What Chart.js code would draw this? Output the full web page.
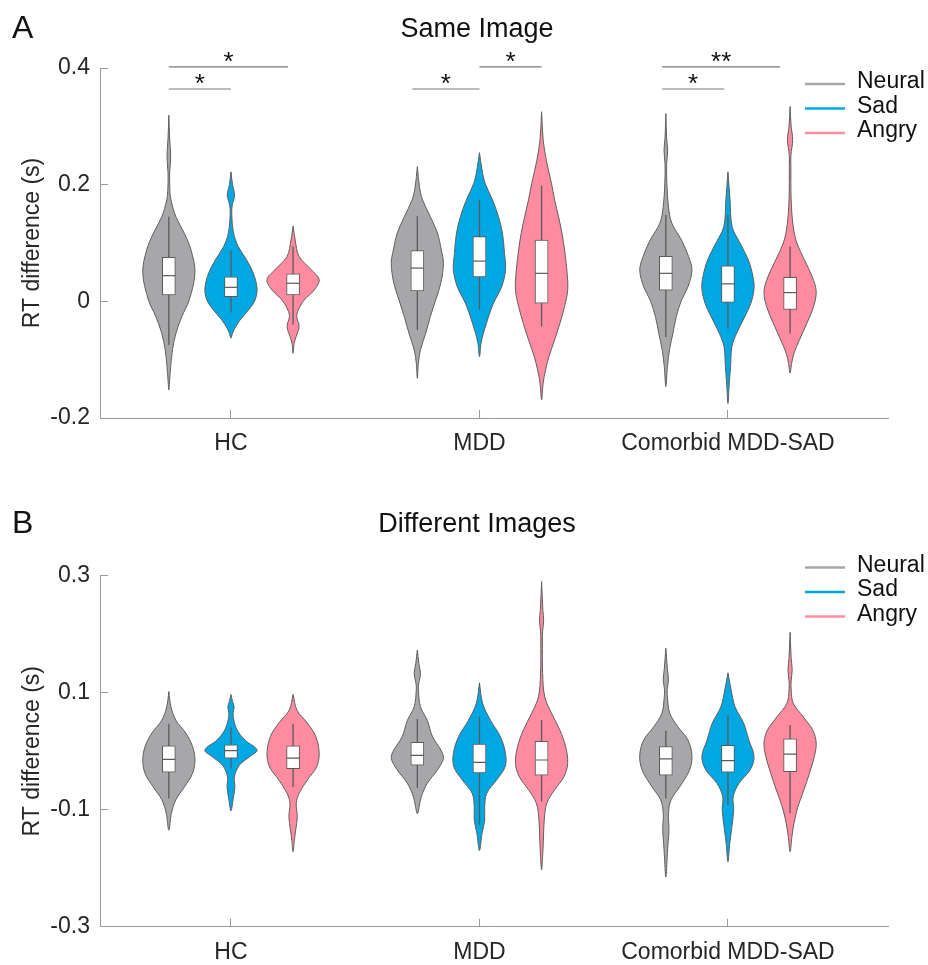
<!DOCTYPE html>
<html>
<head>
<meta charset="utf-8">
<title>RT difference violins</title>
<script src="https://cdn.jsdelivr.net/npm/chart.js@4.4.1/dist/chart.umd.min.js"></script>
<style>
  html, body { margin: 0; padding: 0; background: #fff; }
  #wrap { position: relative; width: 928px; height: 965px; }
  canvas { position: absolute; left: 0; }
  #same { top: 0; }
  #diff { top: 480px; }
</style>
</head>
<body>
<div id="wrap">
  <canvas id="same" width="928" height="480"></canvas>
  <canvas id="diff" width="928" height="485"></canvas>
</div>
<script>
const groups = ["HC", "MDD", "Comorbid MDD-SAD"];
const emotions = ["Neural", "Sad", "Angry"];
const sameTicks = [-0.2, 0, 0.2, 0.4];
const diffTicks = [-0.3, -0.1, 0.1, 0.3];

// violin outlines, [value, relative width] from top to bottom; one per group (HC, MDD, Comorbid)
const sameNeural = [
  [[0.319,0],[0.28,0.03],[0.248,0.07],[0.22,0.03],[0.19,0.04],[0.174,0.08],[0.145,0.27],[0.117,0.59],[0.088,0.85],[0.049,1],[0.002,0.78],[-0.026,0.5],[-0.055,0.27],[-0.083,0.14],[-0.112,0.07],[-0.135,0.03],[-0.152,0]],
  [[0.231,0],[0.197,0.08],[0.174,0.2],[0.145,0.5],[0.117,0.77],[0.088,0.92],[0.065,1],[0.031,0.9],[0.002,0.7],[-0.026,0.5],[-0.055,0.32],[-0.083,0.12],[-0.106,0.04],[-0.132,0]],
  [[0.322,0],[0.28,0.03],[0.259,0.07],[0.235,0.03],[0.202,0.04],[0.162,0.1],[0.134,0.23],[0.105,0.6],[0.077,0.87],[0.054,1],[0.025,0.85],[0.002,0.6],[-0.026,0.4],[-0.055,0.27],[-0.083,0.14],[-0.112,0.06],[-0.146,0]]
];
const sameSad = [
  [[0.222,0],[0.2,0.06],[0.182,0.14],[0.165,0.05],[0.15,0.03],[0.117,0.1],[0.094,0.28],[0.071,0.6],[0.049,0.85],[0.022,1],[0.002,0.92],[-0.015,0.67],[-0.032,0.35],[-0.046,0.15],[-0.055,0.06],[-0.063,0]],
  [[0.255,0],[0.225,0.1],[0.202,0.22],[0.174,0.5],[0.145,0.73],[0.117,0.88],[0.082,0.96],[0.054,1],[0.025,0.85],[-0.003,0.54],[-0.026,0.35],[-0.055,0.15],[-0.072,0.06],[-0.095,0]],
  [[0.222,0],[0.174,0.08],[0.128,0.16],[0.1,0.46],[0.071,0.78],[0.042,0.96],[0.022,1],[-0.003,0.88],[-0.026,0.65],[-0.055,0.33],[-0.078,0.15],[-0.112,0.1],[-0.14,0.05],[-0.175,0]]
];
const sameAngry = [
  [[0.129,0],[0.105,0.08],[0.077,0.23],[0.054,0.7],[0.037,1],[0.019,0.8],[0.002,0.42],[-0.015,0.2],[-0.026,0.14],[-0.043,0.23],[-0.06,0.12],[-0.072,0.04],[-0.089,0]],
  [[0.325,0],[0.277,0.06],[0.242,0.18],[0.202,0.38],[0.174,0.5],[0.145,0.65],[0.117,0.78],[0.088,0.88],[0.048,0.98],[0.019,1],[-0.009,0.88],[-0.038,0.7],[-0.066,0.5],[-0.095,0.28],[-0.118,0.15],[-0.14,0.06],[-0.169,0]],
  [[0.334,0],[0.3,0.04],[0.277,0.1],[0.25,0.03],[0.231,0.03],[0.174,0.04],[0.128,0.12],[0.1,0.26],[0.071,0.55],[0.042,0.85],[0.017,1],[-0.009,0.9],[-0.038,0.64],[-0.066,0.36],[-0.089,0.15],[-0.106,0.06],[-0.123,0]]
];
const diffNeural = [
  [[0.102,0],[0.076,0.08],[0.053,0.27],[0.031,0.65],[0.008,0.91],[-0.015,1],[-0.038,0.91],[-0.061,0.6],[-0.083,0.27],[-0.106,0.1],[-0.135,0]],
  [[0.173,0],[0.15,0.06],[0.133,0.12],[0.115,0.05],[0.105,0.04],[0.076,0.12],[0.053,0.38],[0.025,0.58],[0.002,0.9],[-0.012,1],[-0.032,0.77],[-0.055,0.38],[-0.078,0.15],[-0.095,0.07],[-0.107,0]],
  [[0.176,0],[0.14,0.06],[0.122,0.1],[0.105,0.05],[0.093,0.06],[0.065,0.15],[0.042,0.46],[0.019,0.85],[-0.007,1],[-0.032,0.91],[-0.061,0.53],[-0.083,0.2],[-0.106,0.1],[-0.135,0.12],[-0.16,0.08],[-0.175,0.06],[-0.215,0]]
];
const diffSad = [
  [[0.097,0],[0.085,0.06],[0.076,0.12],[0.065,0.08],[0.055,0.1],[0.036,0.24],[0.019,0.54],[0.002,1],[-0.009,0.73],[-0.024,0.32],[-0.044,0.13],[-0.061,0.15],[-0.083,0.08],[-0.102,0]],
  [[0.117,0],[0.082,0.12],[0.053,0.42],[0.025,0.8],[-0.004,1],[-0.027,0.98],[-0.049,0.66],[-0.072,0.28],[-0.095,0.2],[-0.118,0.2],[-0.14,0.1],[-0.17,0]],
  [[0.134,0],[0.105,0.12],[0.076,0.27],[0.048,0.6],[0.019,0.8],[-0.009,1],[-0.032,0.85],[-0.055,0.42],[-0.078,0.2],[-0.1,0.22],[-0.129,0.15],[-0.157,0.07],[-0.189,0]]
];
const diffAngry = [
  [[0.097,0],[0.07,0.15],[0.048,0.55],[0.025,0.87],[-0.004,1],[-0.027,0.9],[-0.049,0.55],[-0.072,0.23],[-0.089,0.12],[-0.112,0.16],[-0.135,0.1],[-0.152,0.05],[-0.172,0]],
  [[0.29,0],[0.24,0.05],[0.224,0.08],[0.205,0.04],[0.19,0.03],[0.133,0.04],[0.093,0.12],[0.065,0.38],[0.036,0.7],[0.008,0.92],[-0.021,1],[-0.044,0.85],[-0.066,0.5],[-0.089,0.2],[-0.118,0.1],[-0.152,0.07],[-0.18,0.04],[-0.203,0]],
  [[0.203,0],[0.16,0.04],[0.139,0.08],[0.12,0.04],[0.105,0.04],[0.082,0.12],[0.059,0.5],[0.036,0.87],[0.014,1],[-0.009,0.93],[-0.038,0.74],[-0.066,0.53],[-0.095,0.3],[-0.123,0.15],[-0.146,0.07],[-0.172,0]]
];

// box plots per group: [lower whisker, q1, median, q3, upper whisker]
const sameNeuralBox = [[-0.075,0.011,0.044,0.0755,0.145],[-0.049,0.018,0.057,0.087,0.146],[-0.061,0.019,0.048,0.077,0.148]];
const sameSadBox = [[-0.019,0.008,0.024,0.042,0.087],[-0.014,0.042,0.069,0.111,0.174],[-0.046,-0.002,0.03,0.061,0.148]];
const sameAngryBox = [[-0.04,0.011,0.031,0.047,0.094],[-0.043,-0.003,0.048,0.105,0.198],[-0.055,-0.014,0.015,0.041,0.094]];
const diffNeuralBox = [[-0.081,-0.036,-0.014,0.009,0.047],[-0.063,-0.024,-0.007,0.015,0.055],[-0.081,-0.041,-0.013,0.008,0.035]];
const diffSadBox = [[-0.029,-0.012,0.001,0.011,0.041],[-0.126,-0.037,-0.019,0.012,0.059],[-0.092,-0.036,-0.016,0.01,0.062]];
const diffAngryBox = [[-0.061,-0.03,-0.012,0.009,0.047],[-0.086,-0.041,-0.015,0.017,0.053],[-0.106,-0.035,-0.005,0.021,0.045]];

// significance bars: [from, to, value, label]
const sameSig = [[0.75,1.0,0.364,"*"],[0.75,1.23,0.402,"*"],[1.73,2.0,0.364,"*"],[2.0,2.25,0.402,"*"],[2.735,2.985,0.364,"*"],[2.735,3.21,0.402,"**"]];

const colors = { Neural: "#a7a7aa", Sad: "#00a8e3", Angry: "#ff8ba0" };
const offsets = { Neural: -0.25, Sad: 0, Angry: 0.25 };
const halfWidth = 0.105;
const font = "'Liberation Sans', Arial, sans-serif";
const edge = "#5a5a5a";
const axisGray = "#9a9a9a";

function violinPoints(x, shape) {
  const right = shape.map(([v, w]) => ({ x: x + w * halfWidth, y: v }));
  const left = shape.slice().reverse().map(([v, w]) => ({ x: x - w * halfWidth, y: v }));
  return right.concat(left.slice(1));
}

function buildDatasets(shapes, boxes) {
  const sets = [];
  const boxData = [];
  const medData = [];
  emotions.forEach(e => {
    shapes[e].forEach((shape, g) => {
      const x = g + 1 + offsets[e];
      sets.push({
        type: "scatter", data: violinPoints(x, shape), showLine: true, fill: "shape",
        tension: 0.35, backgroundColor: colors[e], borderColor: "#5e5e5e", borderWidth: 1,
        pointRadius: 0, order: 4
      });
      const [lo, q1, med, q3, hi] = boxes[e][g];
      sets.push({
        type: "scatter", data: [{ x, y: lo }, { x, y: hi }], showLine: true,
        borderColor: edge, borderWidth: 1.3, pointRadius: 0, order: 3
      });
      boxData.push({ x, y: [q1, q3] });
      medData.push({ x, y: med });
    });
  });
  sets.push({
    type: "bar", data: boxData, backgroundColor: "#ffffff", borderColor: edge, borderWidth: 1,
    borderSkipped: false, barThickness: 13, grouped: false, order: 2
  });
  sets.push({
    type: "scatter", data: medData, pointStyle: "line", pointRadius: 6.5,
    pointBorderColor: edge, pointBorderWidth: 1.2, order: 1
  });
  return sets;
}

function decor(cfg) {
  return {
    id: "decor",
    afterDraw(chart) {
      const ctx = chart.ctx;
      const xs = chart.scales.x;
      const ys = chart.scales.y;
      ctx.save();
      ctx.fillStyle = "#111";
      ctx.textBaseline = "alphabetic";
      ctx.textAlign = "left";
      ctx.font = "32px " + font;
      ctx.fillText(cfg.letter, 12, cfg.letterY);
      ctx.textAlign = "center";
      ctx.font = "27px " + font;
      ctx.fillText(cfg.title, 477, cfg.titleY);

      ctx.textAlign = "left";
      ctx.textBaseline = "middle";
      ctx.font = "23px " + font;
      emotions.forEach((e, i) => {
        const y = cfg.legendY + i * 24.5;
        ctx.strokeStyle = colors[e];
        ctx.lineWidth = 2.5;
        ctx.beginPath();
        ctx.moveTo(805, y);
        ctx.lineTo(845, y);
        ctx.stroke();
        ctx.fillText(e, 857, y - 2);
      });

      ctx.strokeStyle = "#7a7a7a";
      ctx.lineWidth = 1.2;
      ctx.textAlign = "center";
      ctx.textBaseline = "alphabetic";
      ctx.font = "26px " + font;
      cfg.sig.forEach(([a, b, v, label]) => {
        const x1 = xs.getPixelForValue(a);
        const x2 = xs.getPixelForValue(b);
        const y = ys.getPixelForValue(v);
        ctx.beginPath();
        ctx.moveTo(x1, y);
        ctx.lineTo(x2, y);
        ctx.stroke();
        ctx.fillText(label, (x1 + x2) / 2, y + 3);
      });
      ctx.restore();
    }
  };
}

function makeChart(id, shapes, boxes, ticks, area, cfg) {
  const canvas = document.getElementById(id);
  const tickFont = { family: font, size: 23 };
  return new Chart(canvas, {
    type: "scatter",
    data: { datasets: buildDatasets(shapes, boxes) },
    options: {
      responsive: false,
      animation: false,
      events: [],
      layout: { padding: { top: area.top, right: 40, left: 0, bottom: 0 } },
      plugins: { legend: { display: false }, tooltip: { enabled: false } },
      scales: {
        x: {
          type: "linear", min: 0.473, max: 3.644, bounds: "data", offset: false,
          afterBuildTicks: s => { s.ticks = [1, 2, 3].map(v => ({ value: v })); },
          afterFit: s => { s.height = canvas.height - area.bottom; },
          ticks: { callback: (v, i) => groups[i], autoSkip: false, maxRotation: 0, padding: 20, color: "#262626", font: tickFont },
          grid: { offset: false, drawOnChartArea: false, color: axisGray, tickLength: -8 },
          border: { color: axisGray, width: 1 }
        },
        y: {
          type: "linear", min: ticks[0], max: ticks[ticks.length - 1], bounds: "data",
          afterBuildTicks: s => { s.ticks = ticks.map(v => ({ value: v })); },
          afterFit: s => { s.width = 100; },
          ticks: { callback: v => String(v), padding: 18, color: "#262626", font: tickFont },
          grid: { offset: false, drawOnChartArea: false, color: axisGray, tickLength: -8 },
          border: { color: axisGray, width: 1 },
          title: { display: true, text: "RT difference (s)", color: "#262626", font: tickFont, padding: { top: 19, bottom: 0 } }
        }
      }
    },
    plugins: [decor(cfg)]
  });
}

makeChart("same",
  { Neural: sameNeural, Sad: sameSad, Angry: sameAngry },
  { Neural: sameNeuralBox, Sad: sameSadBox, Angry: sameAngryBox },
  sameTicks, { top: 68, bottom: 418 },
  { letter: "A", letterY: 38, title: "Same Image", titleY: 37, legendY: 84, sig: sameSig });

makeChart("diff",
  { Neural: diffNeural, Sad: diffSad, Angry: diffAngry },
  { Neural: diffNeuralBox, Sad: diffSadBox, Angry: diffAngryBox },
  diffTicks, { top: 95.7, bottom: 446.7 },
  { letter: "B", letterY: 53, title: "Different Images", titleY: 52, legendY: 87.5, sig: [] });
</script>
</body>
</html>
